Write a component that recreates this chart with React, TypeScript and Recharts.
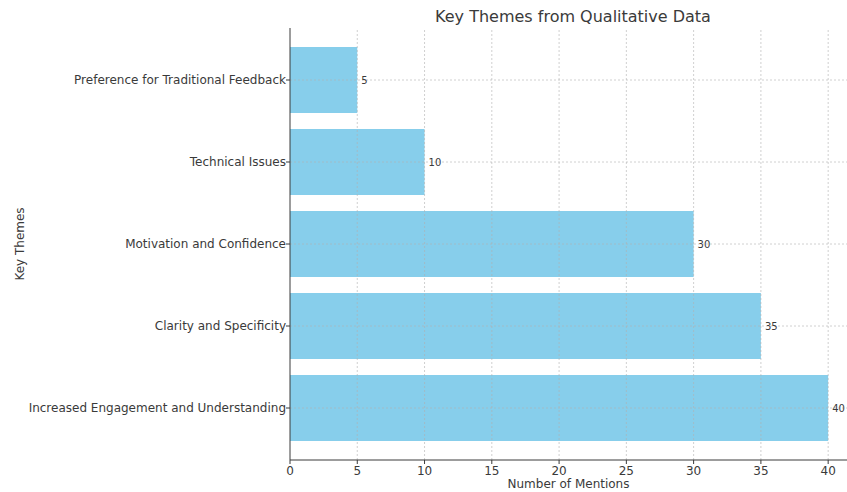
import React from 'react';
import { BarChart, Bar, XAxis, YAxis, ReferenceLine, LabelList, Label } from 'recharts';

const themes = [
  'Preference for Traditional Feedback',
  'Technical Issues',
  'Motivation and Confidence',
  'Clarity and Specificity',
  'Increased Engagement and Understanding',
];
const mentions = [5, 10, 30, 35, 40];
const xTicks = [0, 5, 10, 15, 20, 25, 30, 35, 40];

const data = themes.map((theme, i) => ({ theme, mentions: mentions[i] }));

const font = 'DejaVu Sans, sans-serif';
const ink = '#3a3a3a';
const gridColor = '#b0b0b0';

const App: React.FC = () => {
  return (
    <div style={{ position: 'absolute', left: 0, top: 0, width: 847, height: 492, background: '#fff', fontFamily: font }}>
      <div
        style={{
          position: 'absolute',
          left: 290,
          width: 566,
          top: 7,
          textAlign: 'center',
          fontSize: 16,
          color: ink,
        }}
      >
        Key Themes from Qualitative Data
      </div>
      <BarChart
        width={847}
        height={492}
        data={data}
        layout="vertical"
        margin={{ top: 28, right: 0, bottom: 0, left: 0 }}
      >
        <XAxis
          type="number"
          domain={[0, 41.4]}
          ticks={xTicks}
          allowDataOverflow
          height={32}
          tickSize={4}
          tickMargin={2}
          stroke={ink}
          tick={{ fill: ink, fontSize: 12, fontFamily: font }}
        >
          <Label value="Number of Mentions" position="insideBottom" offset={4} style={{ fill: ink, fontSize: 12, fontFamily: font }} />
        </XAxis>
        <YAxis
          type="category"
          dataKey="theme"
          width={290}
          tickSize={4}
          tickMargin={0}
          padding={{ top: 11, bottom: 11 }}
          stroke={ink}
          tick={{ fill: ink, fontSize: 12, fontFamily: font }}
        >
          <Label value="Key Themes" angle={-90} position="insideLeft" offset={20} style={{ fill: ink, fontSize: 12, fontFamily: font, textAnchor: 'middle' }} />
        </YAxis>
        <Bar dataKey="mentions" fill="#87CEEB" barSize={66} isAnimationActive={false}>
          <LabelList dataKey="mentions" position="right" offset={4} style={{ fill: ink, fontSize: 10, fontFamily: font }} />
        </Bar>
        {/* grid lines sit on top of the bars, like the original */}
        {xTicks.slice(1).map((v) => (
          <ReferenceLine key={'gx' + v} x={v} stroke={gridColor} strokeOpacity={0.6} strokeDasharray="2 2" />
        ))}
        {themes.map((t) => (
          <ReferenceLine key={'gy' + t} y={t} stroke={gridColor} strokeOpacity={0.6} strokeDasharray="2 2" />
        ))}
      </BarChart>
    </div>
  );
};

export default App;
